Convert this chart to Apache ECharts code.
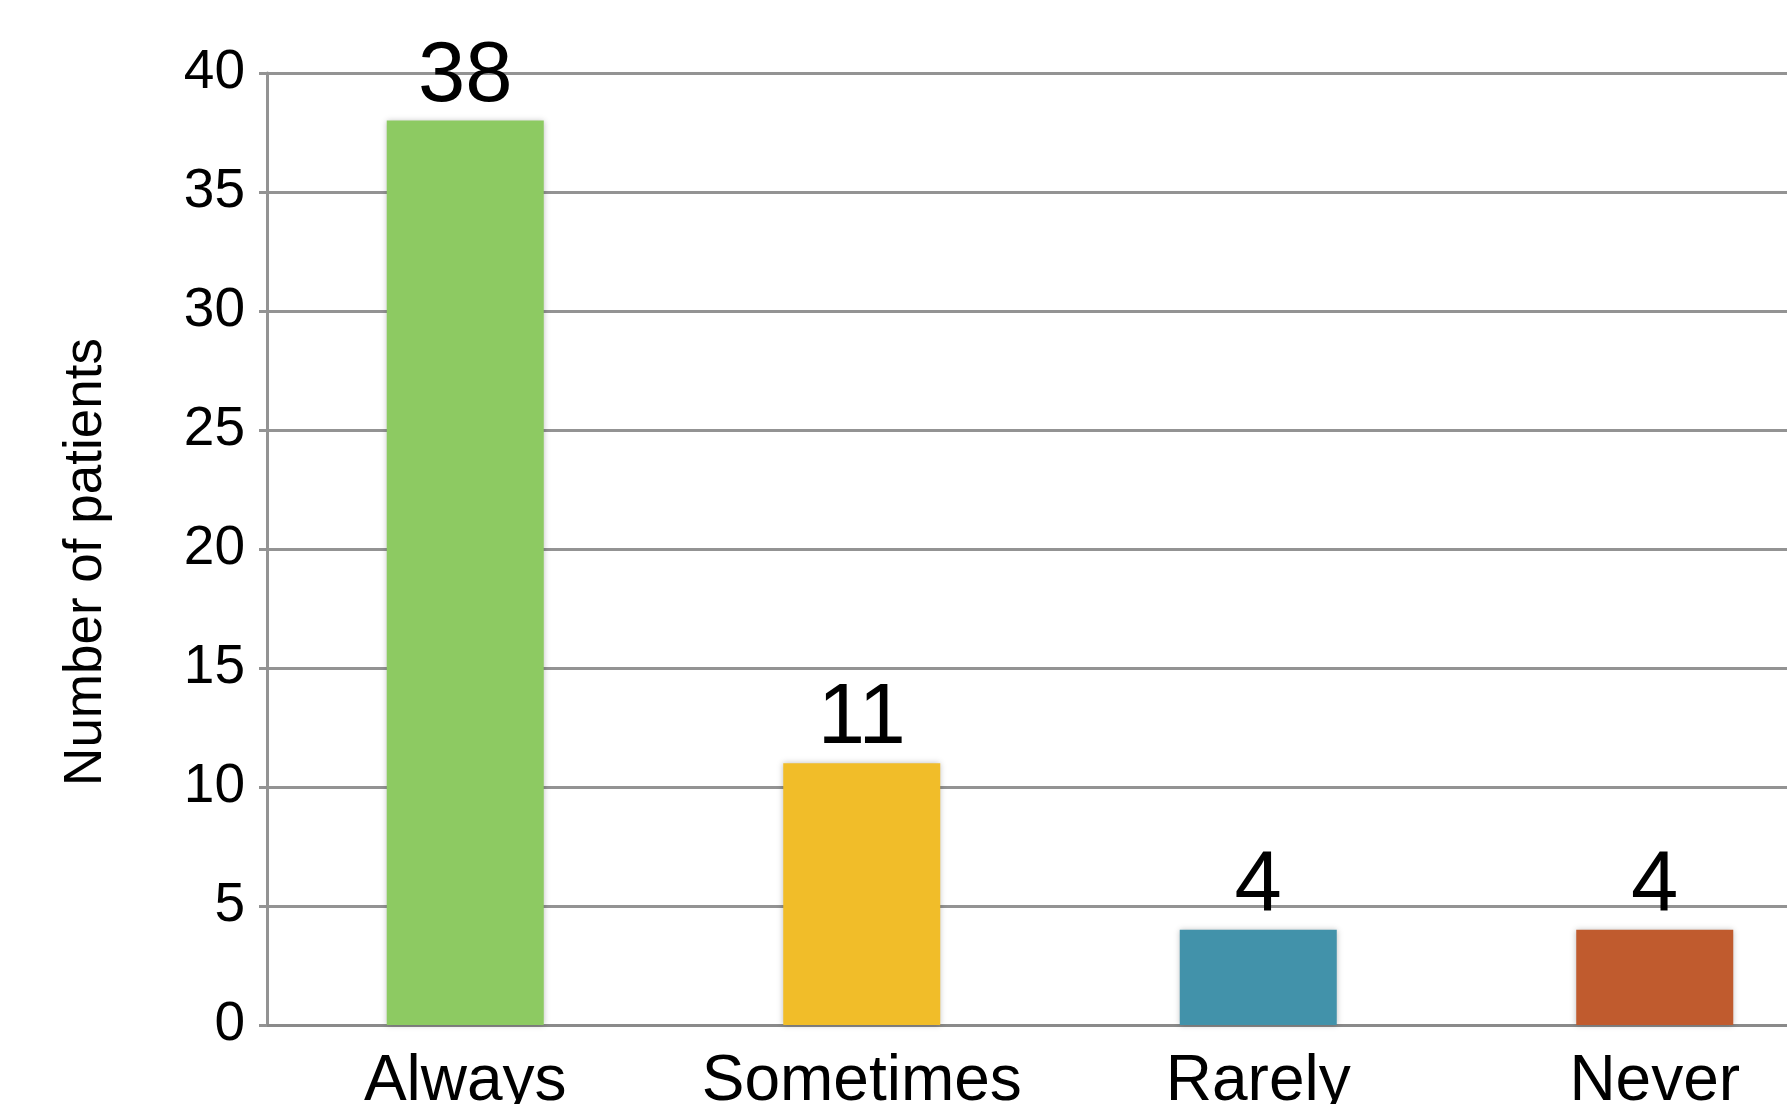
<!DOCTYPE html>
<html>
<head>
<meta charset="utf-8">
<style>
  html, body { margin: 0; padding: 0; background: #fff; }
  #chart { width: 1787px; height: 1104px; }
</style>
<script src="https://cdn.jsdelivr.net/npm/echarts@6/dist/echarts.min.js"></script>
</head>
<body>
<div id="chart"></div>
<script>
  // 데이터
  const categories = ['Always', 'Sometimes', 'Rarely', 'Never'];
  const patients = [38, 11, 4, 4];
  const barColors = ['#8dca62', '#f1bd29', '#4292aa', '#c05b2e'];
  const yTicks = [0, 5, 10, 15, 20, 25, 30, 35, 40];

  const font = '"Liberation Sans", Arial, sans-serif';
  const gridGrey = '#939393';

  const chart = echarts.init(document.getElementById('chart'));

  const option = {
    animation: false,
    grid: {
      left: 267,
      width: 1586,   // 오른쪽이 캔버스 밖으로 잘림
      top: 73,
      bottom: 79,
      containLabel: false,
      outerBoundsMode: 'none'
    },
    xAxis: {
      type: 'category',
      data: categories,
      axisLine: { show: true, lineStyle: { color: '#8a8a8a', width: 3 } },
      axisTick: { show: false },
      axisLabel: {
        interval: 0,
        fontSize: 64,
        fontFamily: font,
        color: '#000',
        margin: 25
      }
    },
    yAxis: {
      type: 'value',
      min: yTicks[0],
      max: yTicks[yTicks.length - 1],
      interval: 5,
      name: 'Number of patients',
      nameLocation: 'middle',
      nameGap: 154,
      nameTextStyle: {
        fontSize: 53,
        fontFamily: font,
        color: '#000',
        padding: [0, 26, 0, 0]
      },
      axisLine: { show: true, lineStyle: { color: gridGrey, width: 3 } },
      axisTick: { show: true, length: 8, lineStyle: { color: gridGrey, width: 3 } },
      splitLine: { show: true, lineStyle: { color: gridGrey, width: 3 } },
      axisLabel: {
        fontSize: 55,
        fontFamily: font,
        color: '#000',
        margin: 22
      }
    },
    series: [{
      type: 'bar',
      data: patients.map((v, i) => ({ value: v, itemStyle: { color: barColors[i] } })),
      barWidth: '39.6%',
      itemStyle: {
        shadowBlur: 6,
        shadowColor: 'rgba(0,0,0,0.25)'
      },
      label: {
        show: true,
        position: 'top',
        distance: 1,
        fontSize: 85,
        fontFamily: font,
        color: '#000'
      }
    }]
  };

  chart.setOption(option);
</script>
</body>
</html>
